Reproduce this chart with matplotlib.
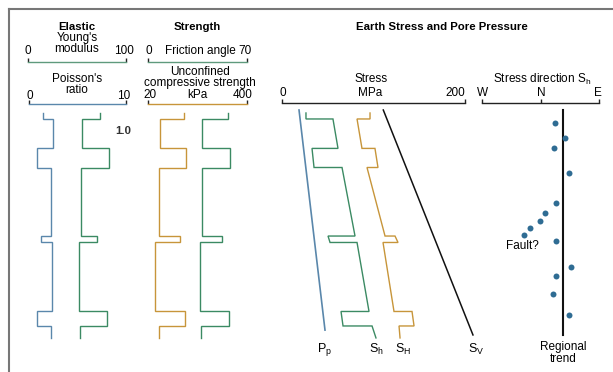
import matplotlib
matplotlib.use("Agg")
import matplotlib.pyplot as plt
from matplotlib.lines import Line2D

plt.rcParams['font.family'] = ['Liberation Sans', 'DejaVu Sans']
plt.rcParams['font.size'] = 8.5

W, H = 613, 372

# ---- data -------------------------------------------------------------
# layer boundaries (depth units, increasing downward)
layer_top = [1.3, 3.9, 16.7, 25.0, 54.8, 57.6, 87.6, 93.9]
layer_base = [3.9, 16.7, 25.0, 54.8, 57.6, 87.6, 93.9, 99.1]

# elastic properties per layer
poisson_ratio = [1.5, 2.55, 0.92, 2.35, 1.33, 2.45, 0.92, 2.35]
youngs_modulus = [73.5, 55.1, 82.7, 54.1, 70.4, 52.0, 80.6, 53.1]

# strength properties per layer
friction_angle = [56.6, 38.2, 58.0, 38.2, 52.3, 36.8, 57.3, 37.5]
ucs_kpa = [158, 66, 166, 62, 143, 47, 162, 62]

# stresses (MPa) at the top and base of each layer
sh_top = [26.2, 55.7, 32.8, 65.6, 50.3, 82.0, 64.5, 98.4]
sh_base = [26.2, 61.2, 35.0, 79.8, 52.5, 95.1, 66.7, 102.7]
sH_top = [96.2, 82.0, 101.6, 92.9, 123.5, 110.4, 142.1, 127.9]
sH_base = [96.2, 87.4, 104.9, 112.6, 126.8, 122.4, 144.3, 129.0]

pp_depth = [0.0, 95.7]
pp_mpa = [18.6, 47.0]
sv_depth = [0.0, 97.8]
sv_mpa = [110.7, 208.7]

# minimum horizontal stress direction (degrees from N, W negative)
dir_depth = [5.8, 12.3, 16.4, 27.3, 40.6, 44.9, 48.3, 51.2, 54.3, 56.8,
             68.1, 72.2, 80.1, 89.1]
dir_azimuth = [22.9, 38.1, 21.4, 44.2, 24.4, 7.6, -0.5, -16.8, -25.9, 24.4,
               46.8, 24.4, 19.3, 44.2]
regional_trend = 34.0
trend_depth = [0.0, 97.8]

# ---- colours ----------------------------------------------------------
BLUE = '#5a87ab'
GREEN = '#3b8a63'
ORANGE = '#c7953a'
DOT = '#2f6c93'

fig = plt.figure(figsize=(W / 100, H / 100), dpi=100)


def fx(x):
    return x / W


def fy(y):
    return 1 - y / H


def txt(x, y, s, **kw):
    kw.setdefault('ha', 'center')
    kw.setdefault('va', 'center')
    kw.setdefault('linespacing', 0.92)
    fig.text(fx(x), fy(y), s, **kw)


DEPTH_TOP_PX, DEPTH_PX = 110.0, 2.3
AX_TOP, AX_BOT = 105.0, 345.0


def track(x0, x1, xlim):
    ax = fig.add_axes([fx(x0), fy(AX_BOT), (x1 - x0) / W, (AX_BOT - AX_TOP) / H])
    ax.set_xlim(*xlim)
    ax.set_ylim((AX_BOT - DEPTH_TOP_PX) / DEPTH_PX, (AX_TOP - DEPTH_TOP_PX) / DEPTH_PX)
    ax.axis('off')
    ax.patch.set_alpha(0)
    return ax


def scale_bar(x0, x1, y, xlim, color, ticks=None):
    ax = fig.add_axes([fx(x0), fy(y), (x1 - x0) / W, 0.001])
    ax.set_xlim(*xlim)
    for s in ('top', 'left', 'right'):
        ax.spines[s].set_visible(False)
    ax.spines['bottom'].set_color(color)
    ax.spines['bottom'].set_linewidth(1.0)
    ax.set_yticks([])
    ax.set_xticks(ticks if ticks is not None else list(xlim))
    ax.tick_params(axis='x', direction='in', length=3, width=1.0,
                   colors='#222222', labelbottom=False)
    ax.patch.set_alpha(0)
    return ax


def blocky(values):
    xs, ys = [], []
    for v, t, b in zip(values, layer_top, layer_base):
        xs += [v, v]
        ys += [t, b]
    return xs, ys


def sloped(top_vals, base_vals):
    xs, ys = [], []
    for vt, vb, t, b in zip(top_vals, base_vals, layer_top, layer_base):
        xs += [vt, vb]
        ys += [t, b]
    return xs, ys


# frame
fig.add_artist(Line2D([fx(8.5), fx(8.5)], [fy(8.5), 0], color='#777777', lw=1.5))
fig.add_artist(Line2D([fx(8.5), 1], [fy(8.5), fy(8.5)], color='#777777', lw=1.5))

TITLE = dict(fontweight='bold', fontsize=8.2)

# ---- Elastic ----------------------------------------------------------
txt(77, 27, 'Elastic', **TITLE)
txt(77, 43.5, "Young's\nmodulus")
txt(28, 51, '0')
txt(124, 51, '100')
scale_bar(28, 126, 61.5, (0, 100), '#5f9a7d')
txt(77, 84.5, "Poisson's\nratio")
txt(30, 96, '0')
txt(124, 96, '10')
scale_bar(29, 126, 104, (0, 10), BLUE)

ax_nu = track(28, 126, (0, 10))
ax_nu.plot(*blocky(poisson_ratio), color=BLUE, lw=1.0, solid_joinstyle='miter')
ax_e = track(28, 126, (0, 100))
ax_e.plot(*blocky(youngs_modulus), color=GREEN, lw=1.0, solid_joinstyle='miter')
txt(123, 131, '1.0', fontweight='bold', color='#333333', fontsize=8.2)

# ---- Strength ---------------------------------------------------------
txt(197, 27, 'Strength', **TITLE)
txt(149, 51, '0')
txt(200, 51, 'Friction angle')
txt(245, 51, '70')
scale_bar(148, 247, 61.5, (0, 70), '#5f9a7d')
txt(200, 77.5, 'Unconfined\ncompressive strength')
txt(150, 95, '20')
txt(197, 95, 'kPa')
txt(243, 95, '400')
scale_bar(148, 247, 104, (20, 400), ORANGE)

ax_ucs = track(148, 247, (20, 400))
ax_ucs.plot(*blocky(ucs_kpa), color=ORANGE, lw=1.0, solid_joinstyle='miter')
ax_fa = track(148, 247, (0, 70))
ax_fa.plot(*blocky(friction_angle), color=GREEN, lw=1.0, solid_joinstyle='miter')

# ---- Earth stress and pore pressure ------------------------------------
txt(442, 27.5, 'Earth Stress and Pore Pressure', **TITLE)
txt(371, 79.5, 'Stress')
txt(370, 93.5, 'MPa')
txt(283, 93.5, '0')
txt(455, 93.5, '200')
scale_bar(282, 465, 103, (0, 200), '#222222')

ax_s = track(282, 465, (0, 200))
ax_s.plot(pp_mpa, pp_depth, color=BLUE, lw=1.2, clip_on=False)
ax_s.plot(*sloped(sh_top, sh_base), color=GREEN, lw=1.0, solid_joinstyle='miter',
          clip_on=False)
ax_s.plot(*sloped(sH_top, sH_base), color=ORANGE, lw=1.0, solid_joinstyle='miter',
          clip_on=False)
ax_s.plot(sv_mpa, sv_depth, color='#111111', lw=1.1, clip_on=False)

lbl = dict(fontsize=9)
txt(325, 349, r'P$_\mathregular{p}$', **lbl)
txt(376, 349, r'S$_\mathregular{h}$', **lbl)
txt(403, 349, r'S$_\mathregular{H}$', **lbl)
txt(476, 349, r'S$_\mathregular{V}$', **lbl)

# ---- Stress direction ---------------------------------------------------
txt(542, 79.5, r'Stress direction S$_\mathregular{h}$')
txt(483, 93.5, 'W')
txt(541, 93.5, 'N')
txt(598, 93.5, 'E')
scale_bar(482, 599, 103, (-90, 90), '#222222', ticks=[-90, 0, 90])

ax_d = track(482, 599, (-90, 90))
ax_d.plot([regional_trend, regional_trend], trend_depth, color='#111111', lw=1.5)
ax_d.plot(dir_azimuth, dir_depth, 'o', color=DOT, ms=4.3, mec='none')
txt(522, 246, 'Fault?')
txt(563, 353, 'Regional\ntrend')

fig.savefig('out.png', dpi=100)
